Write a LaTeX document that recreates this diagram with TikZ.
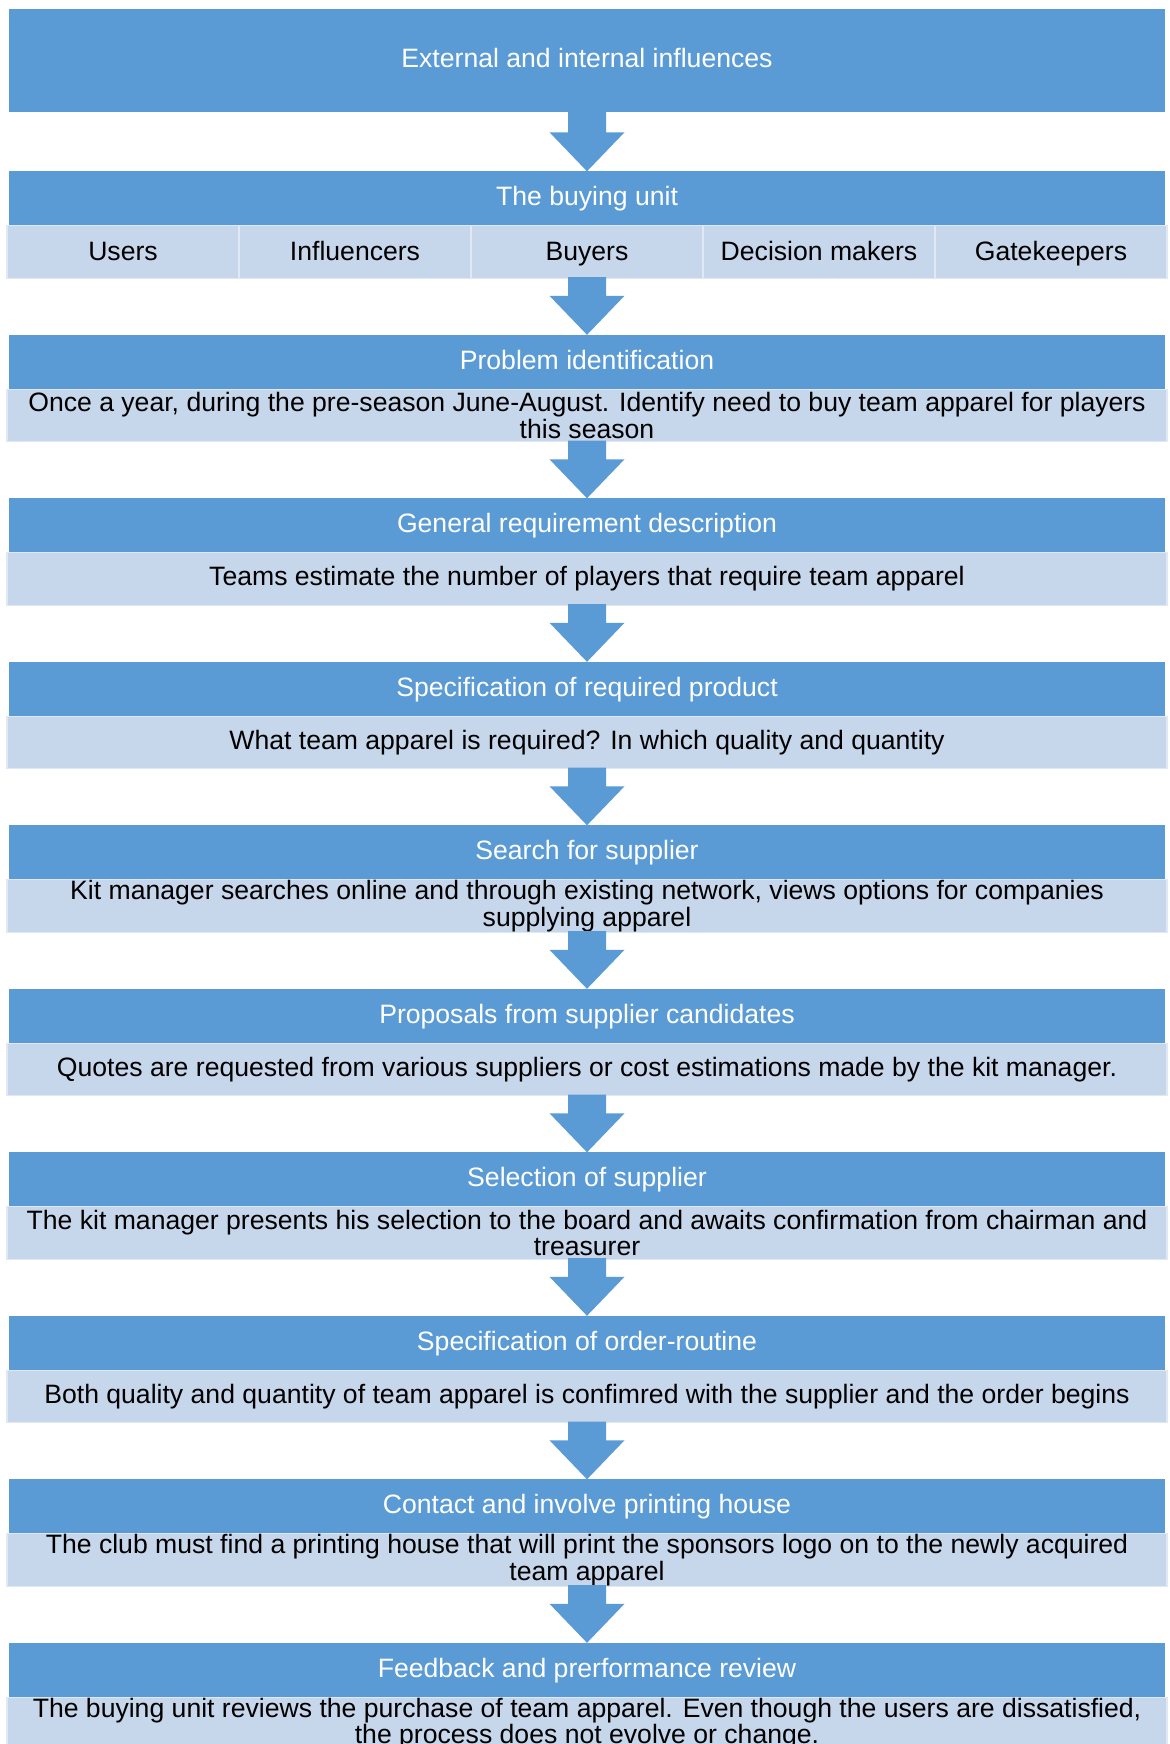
\documentclass[tikz,border=0pt]{standalone}
\usepackage{fontspec}
\setmainfont{Liberation Sans}
\usetikzlibrary{calc}
\definecolor{dblue}{RGB}{91,155,213}
\definecolor{lblue}{RGB}{198,214,235}
\newcommand\fsz{\fontsize{26.6}{26.7}\selectfont}
% block arrow from the bottom of one box to the top of the next
\newcommand\flowarrow[2]{%
  \fill[dblue] ($(#1.south)+(-19,-1)$) -- ($(#1.south)+(19,-1)$)
    -- ($(#2.north)+(19,-39)$) -- ($(#2.north)+(37.5,-39)$) -- (#2.north)
    -- ($(#2.north)+(-37.5,-39)$) -- ($(#2.north)+(-19,-39)$) -- cycle;}
\tikzset{
  head/.style={fill=dblue, text=white, minimum width=1156, minimum height=54.5,
    inner sep=0, outer sep=0, font=\fsz, text height=19.1, text depth=4.4},
  body/.style={fill=lblue, draw=lblue!55!white, line width=1.2, minimum width=1160,
    minimum height=52.3, inner sep=0, outer sep=0, align=center, font=\fsz},
  cell/.style={body, minimum width=232, text height=19.1, text depth=2.2},
}
\begin{document}
\begin{tikzpicture}[x=1pt,y=-1pt]
\useasboundingbox (0,0) rectangle (1169,1744);
\fill[white] (0,0) rectangle (1169,1744);

\node[head, minimum height=103, text depth=6] (ext) at (587,60.5) {External and internal influences};

% buying unit
\node[head] (bu) at (587,198.55) {The buying unit};
\node[cell] (c1) at (123,251.95) {Users};
\node[cell] (c2) at (355,251.95) {Influencers};
\node[cell] (c3) at (587,251.95) {Buyers};
\node[cell] (c4) at (819,251.95) {Decision makers};
\node[cell] (c5) at (1051,251.95) {Gatekeepers};

% process stages
\node[head] (h1) at (587,362.05) {Problem identification};
\node[body] (b1) at (587,415.45) {Once a year, during the pre-season June-August. Identify need to buy team apparel for players\\this season};

\node[head] (h2) at (587,525.55) {General requirement description};
\node[body] (b2) at (587,578.95) {Teams estimate the number of players that require team apparel};

\node[head] (h3) at (587,689.05) {Specification of required product};
\node[body] (b3) at (587,742.45) {What team apparel is required? In which quality and quantity};

\node[head] (h4) at (587,852.55) {Search for supplier};
\node[body] (b4) at (587,905.95) {Kit manager searches online and through existing network, views options for companies\\supplying apparel};

\node[head] (h5) at (587,1016.05) {Proposals from supplier candidates};
\node[body] (b5) at (587,1069.45) {Quotes are requested from various suppliers or cost estimations made by the kit manager.};

\node[head] (h6) at (587,1179.55) {Selection of supplier};
\node[body] (b6) at (587,1232.95) {The kit manager presents his selection to the board and awaits confirmation from chairman and\\treasurer};

\node[head] (h7) at (587,1343.05) {Specification of order-routine};
\node[body] (b7) at (587,1396.45) {Both quality and quantity of team apparel is confimred with the supplier and the order begins};

\node[head] (h8) at (587,1506.55) {Contact and involve printing house};
\node[body] (b8) at (587,1559.95) {The club must find a printing house that will print the sponsors logo on to the newly acquired\\team apparel};

\node[head] (h9) at (587,1670.05) {Feedback and prerformance review};
\node[body] (b9) at (587,1723.45) {The buying unit reviews the purchase of team apparel. Even though the users are dissatisfied,\\the process does not evolve or change.};

% arrows
\flowarrow{ext}{bu}
\flowarrow{c3}{h1}
\flowarrow{b1}{h2}
\flowarrow{b2}{h3}
\flowarrow{b3}{h4}
\flowarrow{b4}{h5}
\flowarrow{b5}{h6}
\flowarrow{b6}{h7}
\flowarrow{b7}{h8}
\flowarrow{b8}{h9}
\end{tikzpicture}
\end{document}
